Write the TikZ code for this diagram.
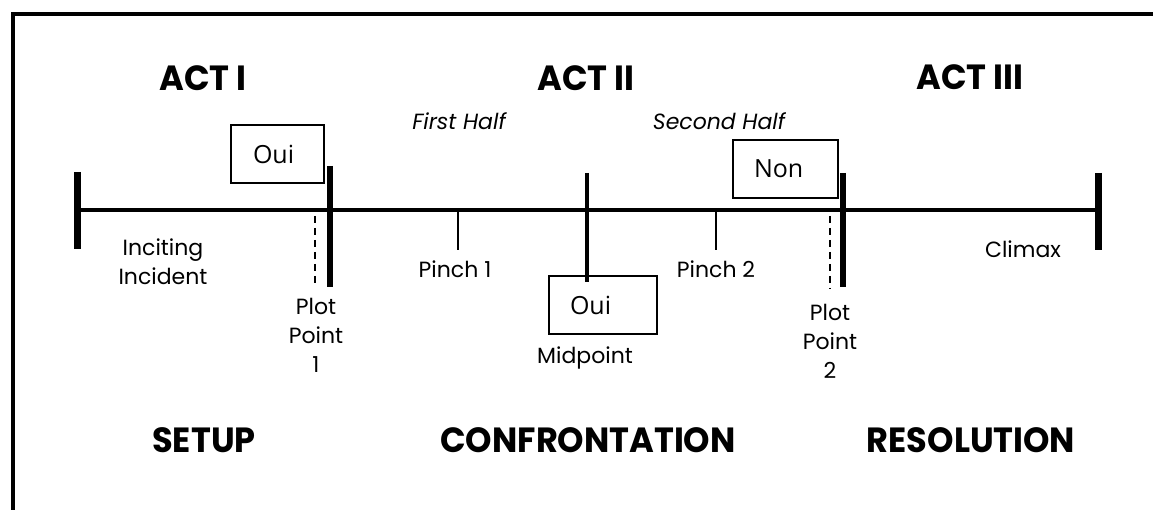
\documentclass[tikz,border=0pt]{standalone}
\usepackage{fontspec}
\setmainfont{Poppins}
\newfontfamily\boxfont{Open Sans}
\begin{document}
\begin{tikzpicture}[x=1pt,y=-1pt,
  actlabel/.style={font=\fontsize{35}{35}\selectfont\bfseries, inner sep=0pt, xscale=0.96},
  partlabel/.style={font=\fontsize{35}{35}\selectfont\bfseries, inner sep=0pt, xscale=0.96},
  small/.style={font=\fontsize{22}{29}\selectfont, inner sep=0pt, align=center},
  half/.style={font=\fontsize{22}{22}\selectfont\itshape, inner sep=0pt},
  obox/.style={draw, line width=2pt, inner sep=0pt, anchor=north west, minimum height=58pt, font=\boxfont\fontsize{25}{25}\selectfont},
  mainline/.style={line width=4pt},
  endtick/.style={line width=7pt},
  pptick/.style={line width=6pt},
  midtick/.style={line width=3.5pt},
  pinchtick/.style={line width=2pt},
  ppdash/.style={line width=2.5pt, dash pattern=on 7pt off 5pt}
]
\useasboundingbox (0,0) rectangle (1153,510);
% frame
\draw[line width=4pt] (13,512) -- (13,14) -- (1155,14);

% coordinates of the timeline
\coordinate (L) at (77,210);
\coordinate (R) at (1098,210);
\coordinate (Ltop) at (77,172);  \coordinate (Lbot) at (77,249);
\coordinate (Rtop) at (1098,173); \coordinate (Rbot) at (1098,250);
\coordinate (P1top) at (330,166); \coordinate (P1bot) at (330,287);
\coordinate (P2top) at (843,173); \coordinate (P2bot) at (843,287);
\coordinate (D1top) at (315,216); \coordinate (D1bot) at (315,286);
\coordinate (D2top) at (830,216); \coordinate (D2bot) at (830,289);
\coordinate (Mtop) at (587,173); \coordinate (Mbot) at (587,282);
\coordinate (N1top) at (458,210); \coordinate (N1bot) at (458,250);
\coordinate (N2top) at (716,210); \coordinate (N2bot) at (716,250);

\draw[mainline] (L) -- (R);
\draw[endtick] (Ltop) -- (Lbot);
\draw[endtick] (Rtop) -- (Rbot);
\draw[pptick] (P1top) -- (P1bot);
\draw[pptick] (P2top) -- (P2bot);
\draw[ppdash] (D1top) -- (D1bot);
\draw[ppdash] (D2top) -- (D2bot);
\draw[midtick] (Mtop) -- (Mbot);
\draw[pinchtick] (N1top) -- (N1bot);
\draw[pinchtick] (N2top) -- (N2bot);

% boxes
\node[obox, minimum width=93pt] (oui1) at (230,124) {\makebox[93pt][l]{\hspace{22pt}Oui}};
\node[obox, minimum width=108pt] (oui2) at (548,275) {\makebox[108pt][l]{\hspace{21pt}Oui}};
\node[obox, minimum width=105pt] (non) at (732,139) {\makebox[105pt][l]{\hspace{21pt}Non}};

% act labels
\node[actlabel] (act1) at (203,78) {ACT I};
\node[actlabel] (act2) at (586,78) {ACT II};
\node[actlabel] (act3) at (970,77) {ACT III};

\node[half] (fh) at (459,121) {First Half};
\node[half] (sh) at (719,121) {Second Half};

% small labels
\node[small] (inc) at (163,262) {Inciting\\Incident};
\node[small] (pp1) at (316,335) {Plot\\Point\\1};
\node[small] (pp2) at (830,341) {Plot\\Point\\2};
\node[small] (pin1) at (455,269) {Pinch 1};
\node[small] (pin2) at (716,269) {Pinch 2};
\node[small] (mid) at (585,358) {Midpoint};
\node[small] (clim) at (1023,249) {Climax};

% part labels
\node[partlabel] (setup) at (204,440) {SETUP};
\node[partlabel] (conf) at (588,440) {CONFRONTATION};
\node[partlabel] (res) at (971,440) {RESOLUTION};
\end{tikzpicture}
\end{document}
